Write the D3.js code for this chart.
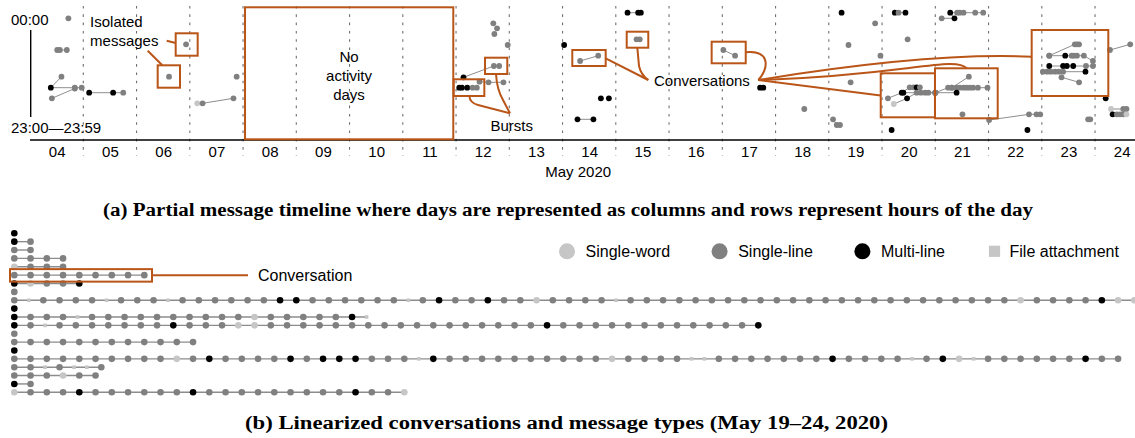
<!DOCTYPE html>
<html><head><meta charset="utf-8">
<script src="https://cdn.jsdelivr.net/npm/d3@7"></script>
<style>
body{margin:0;background:#fff}
svg{display:block;font-family:"Liberation Sans",Arial,Helvetica,sans-serif}
</style>
</head><body>
<svg id="c" width="1135" height="438"></svg>
<script>
// ---------------- DATA ----------------
const dayNums = d3.range(4, 25);
const dayLabels = dayNums.map(d => String(d).padStart(2, "0"));
const monthLabel = "May 2020";
const hourLabels = ["00:00", "23:00\u201423:59"];

// message types: W single-word, L single-line, M multi-line, F file attachment
const typeNames = {W: "Single-word", L: "Single-line", M: "Multi-line", F: "File attachment"};
const legendOrder = ["W", "L", "M", "F"];

// (a) timeline: each conversation = list of [day position, hour of day, type]
const timeline = [
  [[4.72,1.26,"L"]],
  [[4.51,7.6,"L"],[4.56,7.6,"L"],[4.69,7.6,"L"]],
  [[4.59,12.94,"L"],[4.39,15.14,"M"],[4.84,15.14,"L"],[4.97,15.14,"L"]],
  [[4.41,17.26,"L"],[4.84,15.3,"L"]],
  [[5.11,16.14,"M"],[5.56,16.14,"M"],[5.75,16.14,"L"]],
  [[6.61,12.94,"L"]],
  [[6.93,6.46,"L"]],
  [[7.14,18.26,"W"],[7.24,18.26,"L"],[7.82,17.26,"L"]],
  [[7.88,12.94,"L"]],
  [[12.06,15.14,"M"],[12.11,15.14,"M"],[12.21,15.14,"M"],[12.31,15.14,"L"],[12.39,15.14,"L"]],
  [[12.14,13.06,"M"],[12.71,10.8,"L"],[12.81,10.8,"L"]],
  [[12.44,13.94,"L"],[12.61,14.06,"L"],[12.89,14.06,"L"]],
  [[12.70,2.26,"L"]],[[12.77,3.26,"L"]],[[12.72,4.4,"L"]],
  [[12.97,6.6,"L"]],
  [[14.03,6.6,"M"]],
  [[14.33,9.8,"L"],[14.67,8.74,"L"]],
  [[14.72,17.26,"M"]],[[14.87,17.26,"M"]],
  [[14.28,21.46,"M"],[14.58,21.46,"M"]],
  [[15.22,0.14,"M"],[15.42,0.14,"M"],[15.47,0.14,"M"]],
  [[15.39,5.46,"L"],[15.45,5.46,"L"]],
  [[17.02,7.6,"L"],[17.24,8.74,"L"]],
  [[17.71,15.14,"M"],[17.77,15.14,"M"]],
  [[18.54,19.4,"L"]],
  [[19.24,0.14,"M"]],
  [[19.87,2.26,"L"]],
  [[19.37,6.6,"L"]],
  [[19.97,8.74,"L"]],
  [[19.41,14.06,"L"]],
  [[19.08,21.46,"L"],[19.15,22.6,"L"],[19.21,22.6,"L"]],
  [[20.24,0.14,"M"],[20.31,0.14,"L"],[20.44,0.14,"M"]],
  [[20.48,5.46,"L"]],
  [[20.18,23.6,"M"]],
  [[20.11,17.26,"L"],[20.37,16.14,"M"],[20.52,15.06,"L"],[20.59,15.06,"L"],[20.65,15.06,"M"],[20.71,15.06,"L"]],
  [[20.22,18.4,"W"],[20.47,17.26,"M"],[20.65,16.14,"L"],[20.73,16.14,"L"],[20.81,16.14,"L"],[20.87,16.14,"L"],[21.00,16.14,"L"]],
  [[20.40,16.14,"M"],[21.00,16.14,"L"]],
  [[21.00,16.14,"L"],[21.24,15.14,"L"],[21.31,15.14,"L"],[21.40,15.14,"L"],[21.46,15.14,"L"],[21.53,15.14,"L"],[21.59,15.14,"L"],[21.65,15.14,"L"],[21.71,15.14,"L"],[21.80,15.14,"L"],[21.98,15.14,"L"]],
  [[21.00,16.14,"L"],[21.40,16.14,"M"]],
  [[21.31,15.14,"L"],[21.63,12.94,"L"]],
  [[21.51,20.46,"L"]],
  [[22.01,21.6,"L"],[22.76,20.46,"L"],[22.90,20.46,"L"],[22.97,20.46,"L"]],
  [[22.73,23.6,"M"]],
  [[21.12,1.26,"L"],[21.36,1.26,"M"],[21.28,0.14,"M"],[21.41,0.14,"L"],[21.46,0.14,"L"],[21.53,0.14,"L"],[21.75,0.14,"L"],[21.90,0.14,"L"]],
  [[23.14,8.74,"L"],[23.62,6.46,"L"],[23.66,6.46,"L"],[23.70,6.46,"L"]],
  [[23.14,8.74,"L"],[23.44,8.74,"M"],[23.56,8.74,"L"],[23.60,8.74,"L"],[23.66,8.74,"L"],[23.79,8.74,"L"],[23.96,9.8,"L"]],
  [[23.14,10.8,"M"],[23.40,10.8,"M"],[23.47,10.8,"M"],[23.59,10.8,"M"],[23.83,10.8,"L"],[23.96,10.8,"L"]],
  [[23.02,11.94,"L"],[23.10,11.94,"L"],[23.17,11.94,"L"],[23.25,11.94,"L"],[23.32,11.94,"L"],[23.40,11.94,"L"],[23.82,11.94,"M"]],
  [[23.37,13.06,"L"],[23.70,14.06,"L"]],
  [[23.87,21.46,"L"],[23.91,21.46,"L"]],
  [[24.28,7.6,"L"],[24.66,6.46,"L"]],
  [[24.20,17.26,"M"]],
  [[24.30,19.4,"W"],[24.53,19.4,"L"],[24.59,19.4,"L"]],
  [[24.33,20.46,"M"],[24.41,20.46,"L"],[24.47,20.46,"L"],[24.53,20.46,"L"],[24.59,20.46,"W"]]
];

// annotation boxes [day0, hour0, day1, hour1]
const annoBoxes = [
  [6.735,4.26,7.148,8.74],[6.397,10.66,6.816,15.14],
  [8.037,-0.94,11.948,25.46],
  [11.956,13.46,12.531,16.8],[12.544,9.14,12.962,12.4],
  [14.183,7.6,14.81,10.8],[15.205,3.94,15.61,7.14],[16.80,5.94,17.44,10.26],
  [19.975,12.26,20.994,21.06],[20.994,11.26,22.172,21.26],[22.81,3.6,24.249,16.8]
];
const annoLabels = [
  {t:"Isolated", d:5.127, h:3.0, a:"start"},
  {t:"messages", d:5.127, h:6.8, a:"start"},
  {t:"No", d:9.99, h:9.9, a:"middle"},
  {t:"activity", d:9.99, h:13.8, a:"middle"},
  {t:"days", d:9.99, h:17.6, a:"middle"},
  {t:"Bursts", d:13.045, h:23.8, a:"middle"},
  {t:"Conversations", d:15.717, h:14.8, a:"start"}
];

// (b) linearized conversations (one string per conversation)
const rows = [
  "M",
  "ML",
  "LL",
  "LLLL",
  "WLLL",
  "LLLLLLLLL",
  "MWLLM",
  "L",
  "LFLLLLFLLLFLLLLLLMMLLLLLLFLMLLMLLWLLLLF" + "L".repeat(24) + "WLLLLMWW",
  "M",
  "MLLLF" + "L".repeat(10) + "W" + "LLLLL" + "MF",
  "MLFLLLLLLLMLLLWW" + "L".repeat(17) + "M" + "L".repeat(12) + "M",
  "L",
  "LLLLLLLLLLLL",
  "M",
  "L".repeat(10) + "WLM" + "LLLL" + "MLMMM" + "LLL" + "FM" + "L".repeat(10) + "W" + "LLLL" + "FF" + "L".repeat(7) + "M" + "LLLL" + "FLMWF" + "L".repeat(6) + "MLL",
  "LLFLFFL",
  "LLLWLL",
  "ML",
  "WLLLM" + "LLLLLL" + "M" + "L".repeat(9) + "M" + "LL" + "W"
];
const highlightedRow = 5;

const captionA = "(a) Partial message timeline where days are represented as columns and rows represent hours of the day";
const captionB = "(b) Linearized conversations and message types (May 19\u201324, 2020)";

// ---------------- STYLE ----------------
const fill = {W:"#c6c6c6", L:"#808080", M:"#000000", F:"#c6c6c6"};
const ORANGE = "#ba5518";
const SANS = '"Liberation Sans", Arial, Helvetica, sans-serif';
const SERIF = '"Liberation Serif", "Times New Roman", serif';

const svg = d3.select("#c");

// ---------------- (a) TIMELINE ----------------
const xT = d3.scaleLinear().domain([4, 25]).range([30.05, 1148.3]);
const yT = d3.scaleLinear().domain([0, 24]).range([12, 132]);

svg.append("g").selectAll("line").data(d3.range(5, 25)).join("line")
  .attr("x1", d => xT(d)).attr("x2", d => xT(d))
  .attr("y1", 6).attr("y2", 156)
  .attr("stroke", "#707070").attr("stroke-width", 1.1)
  .attr("stroke-dasharray", "2.6,5.7");

// y axis line and labels
svg.append("line").attr("x1", 30.7).attr("x2", 30.7)
  .attr("y1", yT(3.6)).attr("y2", yT(21)).attr("stroke", "#000").attr("stroke-width", 1.4);
svg.append("text").attr("x", 11).attr("y", 25).attr("font-size", 15).text(hourLabels[0]);
svg.append("text").attr("x", 11).attr("y", 133).attr("font-size", 15).text(hourLabels[1]);

// x axis
const axis = d3.axisBottom(xT).tickValues(dayNums.map(d => d + 0.5))
  .tickFormat((d, i) => dayLabels[i]).tickSize(0).tickPadding(6.3);
const ag = svg.append("g").attr("transform", "translate(0,140)").call(axis);
ag.select(".domain").remove();
ag.selectAll("text").attr("font-size", 15).attr("font-family", SANS).attr("fill", "#000");
svg.append("line").attr("x1", 30).attr("x2", 1135).attr("y1", 140).attr("y2", 140)
  .attr("stroke", "#000").attr("stroke-width", 1.5);
svg.append("text").attr("x", xT(14.5) - 11).attr("y", 177).attr("font-size", 15)
  .attr("text-anchor", "middle").text(monthLabel);

// conversations
const lineT = d3.line().x(p => xT(p[0])).y(p => yT(p[1]));
const tg = svg.append("g");
tg.selectAll("path").data(timeline.filter(c => c.length > 1)).join("path")
  .attr("d", lineT).attr("fill", "none").attr("stroke", "#8e8e8e").attr("stroke-width", 1);
tg.selectAll("circle").data(timeline.flat()).join("circle")
  .attr("cx", p => xT(p[0])).attr("cy", p => yT(p[1])).attr("r", 2.9)
  .attr("fill", p => fill[p[2]]);

// annotations
const ann = svg.append("g");
ann.selectAll("rect").data(annoBoxes).join("rect")
  .attr("x", b => xT(b[0])).attr("y", b => yT(b[1]))
  .attr("width", b => xT(b[2]) - xT(b[0])).attr("height", b => yT(b[3]) - yT(b[1]))
  .attr("fill", "none").attr("stroke", ORANGE).attr("stroke-width", 2);

const P = (d, h) => xT(d) + "," + yT(h);
const leaders = [
  "M" + P(6.566,5.74) + "L" + P(6.735,6.2),
  "M" + P(6.209,7.74) + "L" + P(6.484,10.66),
  "M" + P(12.249,16.8) + "Q" + P(12.262,18.2) + " " + P(12.412,18.6) + "L" + P(13.013,20.26),
  "M" + P(12.750,12.4) + "Q" + P(12.769,15.6) + " " + P(12.882,17.6) + "L" + P(13.013,20.26),
  "M" + P(14.810,9.26) + "L" + P(15.610,13.6),
  "M" + P(15.404,7.14) + "L" + P(15.436,10.8) + "Q" + P(15.474,12.6) + " " + P(15.610,13.6),
  "M" + P(17.439,8.06) + "C" + P(17.933,7.6) + " " + P(17.858,11.6) + " " + P(17.676,13.6),
  "M" + P(17.676,13.6) + "L" + P(19.975,16.7),
  "M" + P(17.676,13.6) + "C" + P(20.336,12.8) + " " + P(21.369,8.6) + " " + P(21.590,11.26),
  "M" + P(17.676,13.6) + "Q" + P(20.900,8) + " " + P(22.810,8.94)
];
ann.selectAll("path").data(leaders).join("path")
  .attr("d", d => d).attr("fill", "none").attr("stroke", ORANGE).attr("stroke-width", 2);
ann.selectAll("text").data(annoLabels).join("text")
  .attr("x", l => xT(l.d)).attr("y", l => yT(l.h)).attr("text-anchor", l => l.a)
  .attr("font-size", 15).text(l => l.t);

// ---------------- (b) LINEARIZED ----------------
const xB = d3.scaleLinear().domain([0, 1]).range([14.3, 22.425]);
const yB = d3.scalePoint().domain(d3.range(rows.length)).range([233.3, 392.3]);
const half = t => t === "F" ? 0.785 : 1;
const items = rows.map((r, i) => {
  let pos = 0;
  return [...r].map((t, j) => { if (j > 0) pos += half(r[j - 1]) + half(t); return {row: i, t, pos}; });
});
const bg = svg.append("g");
bg.selectAll("line").data(items.filter(a => a.length > 1)).join("line")
  .attr("x1", a => xB(a[0].pos)).attr("x2", a => xB(a[a.length - 1].pos))
  .attr("y1", a => yB(a[0].row)).attr("y2", a => yB(a[0].row))
  .attr("stroke", "#8c8c8c").attr("stroke-width", 1.4);
const flat = items.flat();
bg.selectAll("circle").data(flat.filter(d => d.t !== "F")).join("circle")
  .attr("cx", d => xB(d.pos)).attr("cy", d => yB(d.row)).attr("r", 3.3)
  .attr("fill", d => fill[d.t]);
bg.selectAll("rect").data(flat.filter(d => d.t === "F")).join("rect")
  .attr("x", d => xB(d.pos) - 1.8).attr("y", d => yB(d.row) - 1.8)
  .attr("width", 3.6).attr("height", 3.6).attr("fill", fill.F);

// highlighted conversation
const hr = items[highlightedRow];
const hy = yB(highlightedRow);
const hx1 = xB(hr[hr.length - 1].pos) + 7.7;
svg.append("rect").attr("x", xB(hr[0].pos) - 4.3).attr("y", hy - 6)
  .attr("width", hx1 - (xB(hr[0].pos) - 4.3)).attr("height", 12.5)
  .attr("fill", "none").attr("stroke", ORANGE).attr("stroke-width", 2);
svg.append("line").attr("x1", hx1).attr("x2", 248).attr("y1", hy).attr("y2", hy)
  .attr("stroke", ORANGE).attr("stroke-width", 2);
svg.append("text").attr("x", 258).attr("y", hy + 6.3).attr("font-size", 16).text("Conversation");

// legend
const lg = svg.append("g");
let lx = 567; const ly = 251.3;
legendOrder.forEach(t => {
  if (t === "F") {
    lg.append("rect").attr("x", lx - 5.6).attr("y", ly - 5.6).attr("width", 11.2).attr("height", 11.2).attr("fill", fill.F);
  } else {
    lg.append("circle").attr("cx", lx).attr("cy", ly).attr("r", 8).attr("fill", fill[t]);
  }
  const off = t === "F" ? 15 : 18.6;
  const tx = lg.append("text").attr("x", lx + off).attr("y", ly + 5.6).attr("font-size", 16).text(typeNames[t]);
  const w = tx.node().getComputedTextLength();
  lx = lx + off + w + 49.5;
});

// captions
svg.append("text").attr("x", 103).attr("y", 216).attr("font-family", SERIF).attr("font-weight", "bold")
  .attr("font-size", 18).attr("textLength", 930).attr("lengthAdjust", "spacingAndGlyphs").text(captionA);
svg.append("text").attr("x", 245).attr("y", 429).attr("font-family", SERIF).attr("font-weight", "bold")
  .attr("font-size", 18).attr("textLength", 643).attr("lengthAdjust", "spacingAndGlyphs").text(captionB);
</script>
</body></html>
